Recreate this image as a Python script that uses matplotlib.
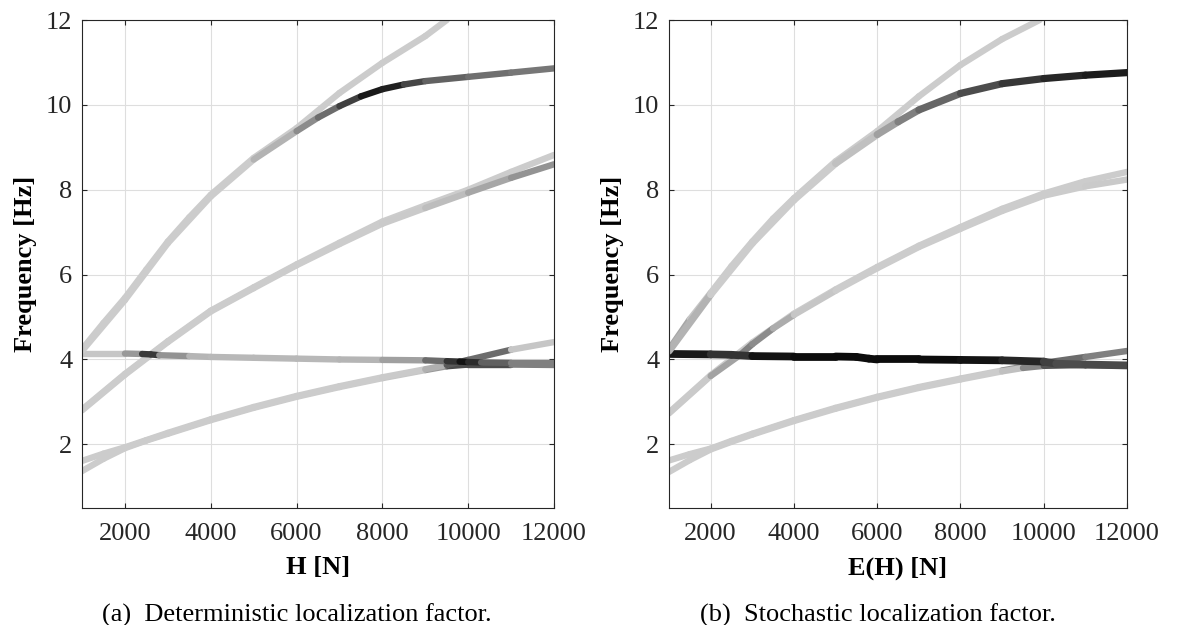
import matplotlib
matplotlib.use('Agg')
import matplotlib.pyplot as plt
from matplotlib.collections import LineCollection
import numpy as np

plt.rcParams['font.family'] = ['Liberation Serif', 'DejaVu Serif']

# ---- (a) deterministic: tension H [N], frequency [Hz], gray level (0 = localized/black)
det1_x = [1000, 1500, 2000, 2500, 3000, 3500, 4000, 5000, 6000, 7000, 8000, 9000, 9500]
det1_f = [4.24, 4.86, 5.45, 6.12, 6.78, 7.35, 7.88, 8.75, 9.45, 10.28, 10.99, 11.62, 12.0]
det1_g = [0.8, 0.8, 0.8, 0.8, 0.8, 0.8, 0.8, 0.8, 0.8, 0.8, 0.8, 0.8, 0.8]

det2_x = [1000, 2000, 3000, 4000, 5000, 6000, 6500, 7000, 7500, 8000, 8500, 9000, 10000, 11000, 12000]
det2_f = [4.2, 5.4, 6.74, 7.84, 8.71, 9.38, 9.7, 9.97, 10.2, 10.37, 10.48, 10.56, 10.66, 10.76, 10.86]
det2_g = [0.8, 0.8, 0.8, 0.8, 0.8, 0.6, 0.5, 0.35, 0.15, 0.05, 0.2, 0.35, 0.42, 0.45, 0.48]

det3_x = [1000, 2000, 3000, 4000, 5000, 6000, 7000, 8000, 9000, 10000, 11000, 12000]
det3_f = [2.82, 3.66, 4.43, 5.15, 5.7, 6.24, 6.75, 7.25, 7.63, 8.0, 8.42, 8.82]
det3_g = [0.8, 0.8, 0.8, 0.8, 0.8, 0.8, 0.8, 0.8, 0.8, 0.8, 0.8, 0.8]

det4_x = [1000, 2000, 3000, 4000, 5000, 6000, 7000, 8000, 9000, 10000, 11000, 12000]
det4_f = [2.8, 3.64, 4.41, 5.13, 5.68, 6.22, 6.72, 7.2, 7.57, 7.93, 8.28, 8.6]
det4_g = [0.8, 0.8, 0.8, 0.8, 0.8, 0.8, 0.8, 0.8, 0.78, 0.7, 0.6, 0.55]

det5_x = [1000, 1500, 2000, 2500, 3000, 4000, 5000, 6000, 7000, 8000, 9000, 9500, 10000, 11000, 12000]
det5_f = [1.61, 1.78, 1.93, 2.1, 2.27, 2.59, 2.88, 3.14, 3.37, 3.58, 3.77, 3.87, 3.99, 4.23, 4.41]
det5_g = [0.8, 0.8, 0.8, 0.8, 0.8, 0.8, 0.8, 0.8, 0.8, 0.8, 0.78, 0.6, 0.1, 0.75, 0.8]

det6_x = [1000, 1500, 2000, 2500, 3000, 4000, 5000, 6000, 7000, 8000, 9000, 9500, 10000, 11000, 12000]
det6_f = [1.37, 1.66, 1.91, 2.09, 2.25, 2.57, 2.86, 3.12, 3.35, 3.56, 3.75, 3.84, 3.88, 3.88, 3.87]
det6_g = [0.8, 0.8, 0.8, 0.8, 0.8, 0.8, 0.8, 0.8, 0.8, 0.8, 0.75, 0.45, 0.15, 0.45, 0.55]

det7_x = [1000, 2000, 2400, 2600, 2800, 3500, 4000, 5000, 6000, 7000, 8000, 9000, 9500, 9800, 10000, 10300, 11000, 12000]
det7_f = [4.14, 4.14, 4.13, 4.12, 4.1, 4.08, 4.06, 4.04, 4.02, 4.0, 3.99, 3.98, 3.96, 3.95, 3.94, 3.93, 3.92, 3.92]
det7_g = [0.8, 0.75, 0.45, 0.0, 0.45, 0.7, 0.72, 0.72, 0.72, 0.72, 0.7, 0.55, 0.3, 0.1, 0.05, 0.3, 0.45, 0.55]

# ---- (b) stochastic: mean tension E(H) [N]
sto1_x = [1000, 1500, 2000, 2500, 3000, 3500, 4000, 5000, 6000, 7000, 8000, 9000, 9900]
sto1_f = [4.24, 4.95, 5.57, 6.2, 6.78, 7.32, 7.8, 8.67, 9.38, 10.2, 10.94, 11.55, 12.0]
sto1_g = [0.55, 0.75, 0.8, 0.8, 0.8, 0.8, 0.8, 0.8, 0.8, 0.8, 0.8, 0.8, 0.8]

sto2_x = [1000, 2000, 3000, 4000, 5000, 6000, 6500, 7000, 8000, 9000, 10000, 11000, 12000]
sto2_f = [4.2, 5.53, 6.74, 7.76, 8.62, 9.3, 9.6, 9.88, 10.27, 10.5, 10.62, 10.7, 10.76]
sto2_g = [0.6, 0.8, 0.8, 0.8, 0.8, 0.7, 0.55, 0.45, 0.35, 0.25, 0.18, 0.12, 0.1]

sto3_x = [1000, 2000, 3000, 4000, 5000, 6000, 7000, 8000, 9000, 10000, 11000, 12000]
sto3_f = [2.75, 3.63, 4.4, 5.08, 5.65, 6.18, 6.68, 7.12, 7.55, 7.91, 8.2, 8.42]
sto3_g = [0.8, 0.8, 0.8, 0.8, 0.8, 0.8, 0.8, 0.8, 0.8, 0.8, 0.8, 0.8]

sto4_x = [1000, 2000, 2700, 3000, 3500, 4000, 5000, 6000, 7000, 8000, 9000, 10000, 11000, 12000]
sto4_f = [2.73, 3.61, 4.1, 4.36, 4.73, 5.05, 5.62, 6.15, 6.65, 7.08, 7.5, 7.86, 8.08, 8.24]
sto4_g = [0.8, 0.78, 0.5, 0.5, 0.6, 0.75, 0.8, 0.8, 0.8, 0.8, 0.8, 0.8, 0.8, 0.78]

sto5_x = [1000, 1500, 2000, 2500, 3000, 4000, 5000, 6000, 7000, 8000, 9000, 10000, 11000, 12000]
sto5_f = [1.62, 1.77, 1.9, 2.08, 2.25, 2.57, 2.86, 3.12, 3.35, 3.55, 3.74, 3.92, 4.06, 4.2]
sto5_g = [0.8, 0.8, 0.8, 0.8, 0.8, 0.8, 0.8, 0.8, 0.8, 0.8, 0.78, 0.35, 0.5, 0.5]

sto6_x = [1000, 1500, 2000, 2500, 3000, 4000, 5000, 6000, 7000, 8000, 9000, 9500, 10000, 11000, 12000]
sto6_f = [1.35, 1.63, 1.88, 2.06, 2.23, 2.55, 2.84, 3.1, 3.33, 3.53, 3.72, 3.8, 3.85, 3.87, 3.86]
sto6_g = [0.8, 0.8, 0.8, 0.8, 0.8, 0.8, 0.8, 0.8, 0.8, 0.8, 0.8, 0.7, 0.35, 0.3, 0.3]

sto7_x = [1000, 2000, 2500, 3000, 4000, 5000, 5500, 5800, 6000, 7000, 8000, 9000, 10000, 10300, 11000, 12000]
sto7_f = [4.13, 4.12, 4.11, 4.08, 4.07, 4.07, 4.06, 4.02, 4.0, 4.0, 3.99, 3.98, 3.95, 3.9, 3.88, 3.86]
sto7_g = [0.1, 0.1, 0.3, 0.1, 0.05, 0.05, 0.05, 0.05, 0.05, 0.05, 0.05, 0.1, 0.2, 0.3, 0.3, 0.28]

x_ticks = [2000, 4000, 6000, 8000, 10000, 12000]
y_ticks = [2, 4, 6, 8, 10, 12]

FS = 19


def add_curve(ax, x, f, g, lw=4.6):
    # thick line, each segment shaded by the localization factor
    pts = np.column_stack([x, f])
    segs = np.stack([pts[:-1], pts[1:]], axis=1)
    gg = np.asarray(g)
    lc = LineCollection(segs, cmap='gray', norm=plt.Normalize(0, 1),
                        linewidths=lw, capstyle='round', joinstyle='round')
    lc.set_array((gg[:-1] + gg[1:]) / 2)
    ax.add_collection(lc)


def style_axes(ax, xlabel):
    ax.set_xlim(1000, 12000)
    ax.set_ylim(0.5, 12)
    ax.set_xticks(x_ticks)
    ax.set_yticks(y_ticks)
    ax.grid(True, color='#dedede', linewidth=0.8)
    ax.set_axisbelow(True)
    ax.tick_params(direction='in', top=True, right=True, length=3.5,
                   width=0.8, color='#262626', labelsize=FS, labelcolor='#262626')
    ax.tick_params(axis='x', pad=11)
    ax.tick_params(axis='y', pad=7)
    for s in ax.spines.values():
        s.set_color('#262626')
        s.set_linewidth(0.8)
    ax.set_xlabel(xlabel, fontsize=FS, fontweight='bold', labelpad=8)
    ax.set_ylabel('Frequency [Hz]', fontsize=FS, fontweight='bold', labelpad=6)


fig = plt.figure(figsize=(11.82, 6.25), dpi=100)
ax1 = fig.add_axes([0.0694, 0.1872, 0.3993, 0.7808])
ax2 = fig.add_axes([0.566, 0.1872, 0.3875, 0.7808])

# light curves first, strongly localized ones on top
add_curve(ax1, det1_x, det1_f, det1_g)
add_curve(ax1, det3_x, det3_f, det3_g)
add_curve(ax1, det4_x, det4_f, det4_g)
add_curve(ax1, det6_x, det6_f, det6_g)
add_curve(ax1, det5_x, det5_f, det5_g)
add_curve(ax1, det7_x, det7_f, det7_g)
add_curve(ax1, det2_x, det2_f, det2_g)

add_curve(ax2, sto1_x, sto1_f, sto1_g)
add_curve(ax2, sto3_x, sto3_f, sto3_g)
add_curve(ax2, sto4_x, sto4_f, sto4_g)
add_curve(ax2, sto5_x, sto5_f, sto5_g)
add_curve(ax2, sto6_x, sto6_f, sto6_g)
add_curve(ax2, sto7_x, sto7_f, sto7_g, lw=5.6)
add_curve(ax2, sto2_x, sto2_f, sto2_g, lw=5.2)

style_axes(ax1, 'H [N]')
style_axes(ax2, 'E(H) [N]')

fig.text(297 / 1182, 0.016, '(a)  Deterministic localization factor.',
         ha='center', va='center', fontsize=FS)
fig.text(878 / 1182, 0.016, '(b)  Stochastic localization factor.',
         ha='center', va='center', fontsize=FS)

fig.savefig('out.png', dpi=100)
